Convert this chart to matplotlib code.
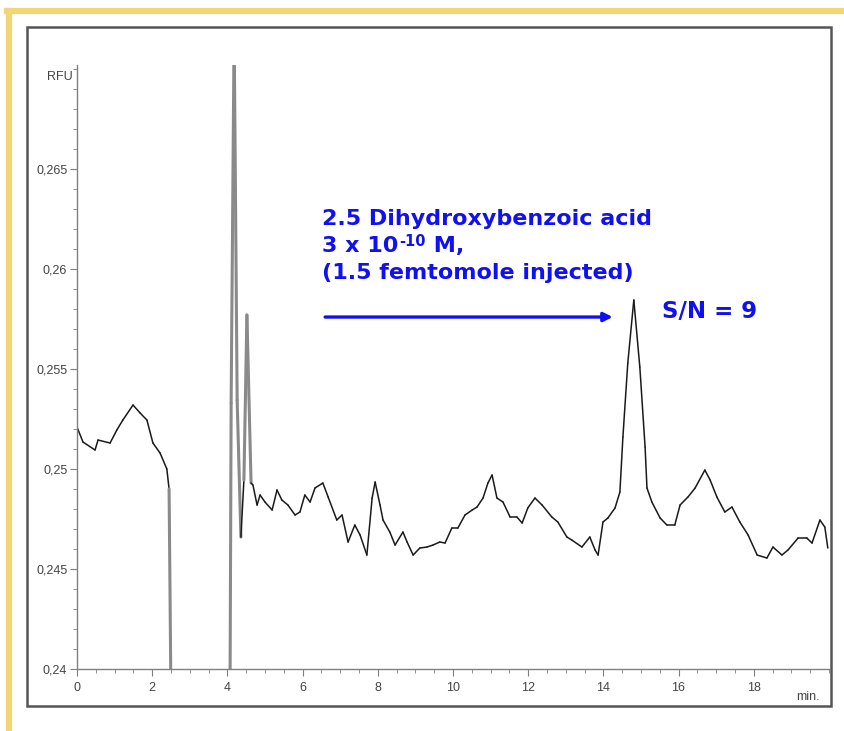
import numpy as np
import matplotlib
matplotlib.use("Agg")
import matplotlib.pyplot as plt
from matplotlib.collections import LineCollection
from matplotlib.patches import Rectangle
from matplotlib.lines import Line2D
from matplotlib.ticker import MultipleLocator, FuncFormatter

# chromatogram trace (time in min, signal in RFU)
time_min = [0.00, 0.16, 0.48, 0.56, 0.88, 1.06, 1.22, 1.49, 1.68, 1.86, 2.02, 2.21,
            2.39, 2.45, 2.50, 4.07, 4.10, 4.18, 4.26, 4.36, 4.44, 4.52, 4.63,
            4.68, 4.79, 4.87, 5.00, 5.19, 5.32, 5.45, 5.61, 5.80, 5.93, 6.06, 6.20,
            6.33, 6.54, 6.68, 6.91, 7.05, 7.21, 7.39, 7.53, 7.71, 7.85, 7.93, 8.06,
            8.14, 8.32, 8.46, 8.67, 8.78, 8.94, 9.12, 9.31, 9.47, 9.65, 9.79, 9.97,
            10.13, 10.32, 10.51, 10.64, 10.80, 10.93, 11.04, 11.17, 11.33, 11.52,
            11.70, 11.84, 11.99, 12.18, 12.37, 12.63, 12.79, 13.03, 13.16, 13.43,
            13.64, 13.78, 13.86, 13.99, 14.12, 14.31, 14.44, 14.52, 14.65, 14.81,
            14.97, 15.11, 15.16, 15.29, 15.51, 15.69, 15.90, 16.04, 16.25, 16.44,
            16.70, 16.84, 17.02, 17.23, 17.42, 17.63, 17.85, 18.09, 18.35, 18.51,
            18.75, 18.91, 19.18, 19.41, 19.55, 19.76, 19.89, 19.97]
rfu = [0.2521, 0.25135, 0.25095, 0.25145, 0.2513, 0.25195, 0.25245, 0.2532, 0.2528,
       0.25245, 0.2513, 0.2508, 0.2500, 0.2490, 0.2385, 0.2385, 0.2533, 0.2720,
       0.25345, 0.2466, 0.24945, 0.2577, 0.2493,
       0.2492, 0.2482, 0.2487, 0.24835, 0.24795, 0.24895, 0.24845, 0.2482, 0.2477,
       0.24785, 0.2487, 0.24835, 0.24905, 0.2493, 0.2486, 0.24745, 0.2477, 0.24635,
       0.2472, 0.2467, 0.2457, 0.24855, 0.24935, 0.2482, 0.24745, 0.24685, 0.2462,
       0.24685, 0.24635, 0.2457, 0.24605, 0.2461, 0.2462, 0.24635, 0.2463, 0.24705,
       0.24705, 0.2477, 0.24795, 0.2481, 0.24855, 0.2493, 0.2497, 0.24855, 0.24835,
       0.2476, 0.2476, 0.2473, 0.24805, 0.24855, 0.2482, 0.2476, 0.24735, 0.2466,
       0.24645, 0.2461, 0.2466, 0.24595, 0.2457, 0.24735, 0.24755, 0.24805, 0.24885,
       0.2516, 0.2553, 0.25845, 0.2551, 0.2511, 0.24905, 0.24835, 0.24755, 0.2472,
       0.2472, 0.2482, 0.2486, 0.24905, 0.24995, 0.24945, 0.2486, 0.24785, 0.2481,
       0.24735, 0.2467, 0.2457, 0.24555, 0.2461, 0.2457, 0.24595, 0.24655, 0.24655,
       0.2463, 0.24745, 0.2471, 0.24605]

x_ticks = [0, 2, 4, 6, 8, 10, 12, 14, 16, 18]
y_ticks = [0.24, 0.245, 0.25, 0.255, 0.26, 0.265]

BLUE = "#1010F0"
LABEL_FONT = "Liberation Sans"

fig = plt.figure(figsize=(8.45, 7.31), dpi=100)
ax = fig.add_axes([0.0911, 0.0848, 0.8899, 0.8262])

# colour the near-vertical spikes grey like the scanned trace
t = np.array(time_min)
v = np.array(rfu)
pts = np.column_stack([t, v]).reshape(-1, 1, 2)
segs = np.concatenate([pts[:-1], pts[1:]], axis=1)
slope = np.abs(np.diff(v) / 0.005 * 100) / np.maximum(np.diff(t) * 37.6, 1e-6)
colors = ["#8a8a8a" if s > 30 else "#1a1a1a" for s in slope]
widths = [2.2 if s > 30 else 1.1 for s in slope]
lc = LineCollection(segs, colors=colors, linewidths=widths, capstyle="round",
                    joinstyle="round")
ax.add_collection(lc)

ax.set_xlim(0, 20)
ax.set_ylim(0.24, 0.2702)

for side in ["top", "right"]:
    ax.spines[side].set_visible(False)
for side in ["left", "bottom"]:
    ax.spines[side].set_color("#808080")
    ax.spines[side].set_linewidth(1.0)

ax.set_xticks(x_ticks)
ax.set_yticks(y_ticks)
ax.xaxis.set_minor_locator(MultipleLocator(0.5))
ax.yaxis.set_minor_locator(MultipleLocator(0.001))
ax.yaxis.set_major_formatter(FuncFormatter(lambda val, pos: f"{val:g}".replace(".", ",")))
ax.tick_params(axis="both", which="major", length=5, width=0.8, color="#808080",
               labelsize=9, labelcolor="#444444", direction="out", pad=2)
ax.tick_params(axis="both", which="minor", length=3, width=0.7, color="#909090",
               direction="out")
ax.tick_params(axis="x", which="major", pad=4)
for lab in ax.get_xticklabels() + ax.get_yticklabels():
    lab.set_fontfamily(LABEL_FONT)

ax.text(-0.006, 0.2699, "RFU", ha="right", va="top", fontsize=9, color="#444444",
        family=LABEL_FONT, transform=ax.get_yaxis_transform())
ax.text(19.45, 0.2389, "min.", ha="center", va="top", fontsize=9,
        color="#444444", family=LABEL_FONT)

# annotation
ax.text(6.52, 0.2625, "2.5 Dihydroxybenzoic acid", color=BLUE, fontsize=16,
        fontweight="bold", ha="left", va="center")
conc = ax.text(6.52, 0.26115, "3 x 10", color=BLUE, fontsize=16,
               fontweight="bold", ha="left", va="center")
sup = ax.annotate("-10", xy=(1, 1), xycoords=conc, xytext=(0.5, 1.5),
                  textcoords="offset points", ha="left", va="top", color=BLUE,
                  fontsize=10.5, fontweight="bold")
ax.annotate(" M,", xy=(1, 0), xycoords=(sup, conc), ha="left", va="bottom",
            color=BLUE, fontsize=16, fontweight="bold")
ax.text(6.52, 0.2598, "(1.5 femtomole injected)", color=BLUE, fontsize=16,
        fontweight="bold", ha="left", va="center")
ax.annotate("", xy=(14.25, 0.2576), xytext=(6.6, 0.2576),
            arrowprops=dict(arrowstyle="-|>", color=BLUE, lw=2.4,
                            mutation_scale=13, shrinkA=0, shrinkB=0))
ax.text(15.55, 0.2579, "S/N = 9", color=BLUE, fontsize=16.5, fontweight="bold",
        ha="left", va="center")

# outer frame and yellow page border
fig.add_artist(Rectangle((0.032, 0.034), 0.951, 0.929, transform=fig.transFigure,
                         fill=False, edgecolor="#555555", linewidth=1.8))
fig.add_artist(Line2D([0.0107, 0.0107], [0.0, 0.985], transform=fig.transFigure,
                      color="#F2D675", linewidth=4.5))
fig.add_artist(Line2D([0.008, 1.0], [0.985, 0.985], transform=fig.transFigure,
                      color="#F2D675", linewidth=4.5))

fig.savefig("out.png", dpi=100)
